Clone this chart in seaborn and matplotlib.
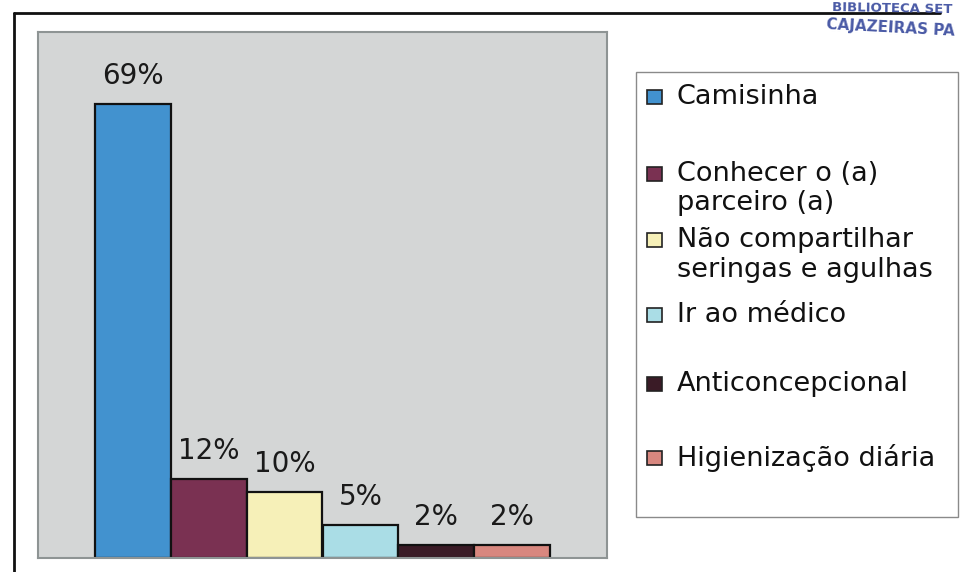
import numpy as np
import pandas as pd
import seaborn as sns
import matplotlib.pyplot as plt
from matplotlib.patches import Rectangle
from matplotlib.lines import Line2D

# Prevention methods cited and share of answers (%)
categories = [
    "Camisinha",
    "Conhecer o (a) parceiro (a)",
    "Não compartilhar seringas e agulhas",
    "Ir ao médico",
    "Anticoncepcional",
    "Higienização diária",
]
legend_labels = [
    "Camisinha",
    "Conhecer o (a)\nparceiro (a)",
    "Não compartilhar\nseringas e agulhas",
    "Ir ao médico",
    "Anticoncepcional",
    "Higienização diária",
]
percentages = [69, 12, 10, 5, 2, 2]
bar_colors = ["#4292cf", "#7a3152", "#f6f0b8", "#aadde6", "#3a1b26", "#d8877f"]

sns.set_theme(style="white")
plt.rcParams["font.family"] = ["DejaVu Sans"]

W, H = 961, 572
fig = plt.figure(figsize=(W / 100, H / 100), dpi=100)
fig.patch.set_facecolor("white")


def fx(px):
    return px / W


def fy(py):
    return 1 - py / H


# Plot area
ax = fig.add_axes([fx(38), fy(558), (607 - 38) / W, (558 - 32) / H])
df = pd.DataFrame({"categoria": categories, "pct": percentages})
sns.barplot(
    data=df, x="categoria", y="pct", hue="categoria", palette=bar_colors,
    saturation=1, width=1.0, dodge=False, edgecolor="#111111", linewidth=1.6,
    legend=False, ax=ax,
)
ax.set_xlim(-1.25, 6.25)
ax.set_ylim(0, 80)
ax.set_facecolor("#d4d6d6")
ax.set_xticks([])
ax.set_yticks([])
ax.set_xlabel("")
ax.set_ylabel("")
for sp in ax.spines.values():
    sp.set_visible(True)
    sp.set_color("#8e9494")
    sp.set_linewidth(1.5)

for container in ax.containers:
    labels = [f"{v:.0f}%" for v in container.datavalues]
    ax.bar_label(container, labels=labels, padding=10, fontsize=20, color="#1a1a1a")

# Legend box drawn beside the plot area
fig.patches.append(Rectangle((fx(636), fy(517)), (958 - 636) / W, (517 - 72) / H,
                             transform=fig.transFigure, facecolor="white",
                             edgecolor="#8a8a8a", linewidth=1.0))
line_y = [[97], [174, 203], [240, 270], [315], [384], [458]]
for label, color, ys in zip(legend_labels, bar_colors, line_y):
    fig.patches.append(Rectangle((fx(647), fy(ys[0] + 7)), 15 / W, 14 / H,
                                 transform=fig.transFigure, facecolor=color,
                                 edgecolor="#222222", linewidth=1.2))
    for text, y in zip(label.split("\n"), ys):
        fig.text(fx(677), fy(y), text, fontsize=19.5, color="#111111",
                 ha="left", va="center")

# Outer frame
fig.add_artist(Line2D([fx(14), fx(14)], [fy(13), fy(572)], transform=fig.transFigure,
                      color="#111111", linewidth=2.0))
fig.add_artist(Line2D([fx(14), fx(940)], [fy(13), fy(13)], transform=fig.transFigure,
                      color="#111111", linewidth=2.0))

# Library stamp
fig.text(fx(832), fy(9), "BIBLIOTECA SET", fontsize=9.5, color="#4a5aa6",
         ha="left", va="center", fontweight="bold", rotation=-1)
fig.text(fx(826), fy(28), "CAJAZEIRAS PA", fontsize=11, color="#4a5aa6",
         ha="left", va="center", fontweight="bold", rotation=-3)

fig.savefig("out.png", dpi=100)
